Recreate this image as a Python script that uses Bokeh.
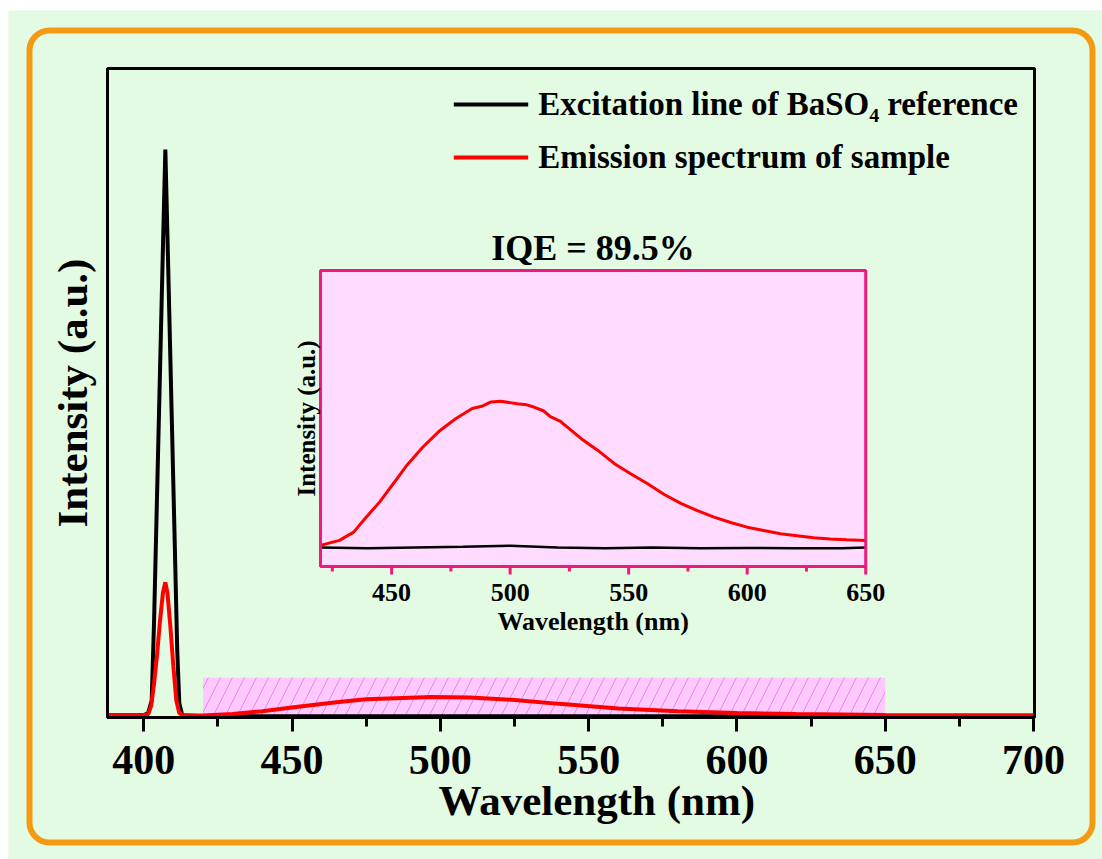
import math
from bokeh.plotting import figure
from bokeh.models import Range1d, FixedTicker, Legend, LegendItem, BoxAnnotation, GridBox
from bokeh.core.properties import value
from bokeh.embed import file_html
from bokeh.resources import INLINE

# ---------------- data ----------------
# main plot: excitation line of BaSO4 reference (black)
exc_wl = [388, 395, 400, 401.5, 402.7, 403.5, 405, 406.5, 407.3, 408, 409.5, 410.5, 411.3, 412, 413,
          420, 450, 500, 550, 600, 650, 700]
exc_int = [0.004, 0.004, 0.004, 0.008, 0.03, 0.17, 0.50, 0.83, 1.0, 0.85, 0.52, 0.30, 0.12, 0.025, 0.004,
           0.002, 0.002, 0.002, 0.002, 0.002, 0.002, 0.002]

# main plot: emission spectrum of sample (red)
em_wl = [388, 400, 401.5, 402.5, 403.5, 404.5, 405.5, 406.5, 407.3, 408, 409, 410, 411, 412, 413,
         420, 430, 440, 452, 465, 475, 485, 497, 510, 525, 540, 560, 580, 600, 620, 650, 700]
em_int = [0.004, 0.004, 0.006, 0.02, 0.06, 0.11, 0.17, 0.22, 0.238, 0.22, 0.16, 0.09, 0.03, 0.008, 0.004,
          0.0035, 0.006, 0.011, 0.019, 0.027, 0.032, 0.034, 0.036, 0.035, 0.031, 0.024, 0.016, 0.011,
          0.008, 0.006, 0.0045, 0.004]

# inset: zoomed region 420-650 nm
ins_wl = [420, 428, 434, 439, 445, 451, 456, 463, 470, 477, 484, 488, 492, 496, 500, 503, 507, 510, 514,
          517, 521, 524, 530, 537, 544, 551, 558, 565, 572, 579, 586, 593, 600, 607, 614, 621, 628, 635,
          642, 650]
ins_em = [0.014, 0.048, 0.104, 0.20, 0.31, 0.44, 0.55, 0.68, 0.79, 0.875, 0.945, 0.96, 0.99, 0.995, 0.985,
          0.977, 0.97, 0.955, 0.93, 0.89, 0.86, 0.82, 0.74, 0.66, 0.57, 0.50, 0.433, 0.36, 0.30, 0.25,
          0.206, 0.17, 0.138, 0.115, 0.093, 0.08, 0.066, 0.058, 0.052, 0.048]
ins_exc_wl = [420, 440, 460, 480, 500, 520, 540, 560, 580, 600, 620, 640, 650]
ins_exc = [0.0, -0.005, 0.0, 0.005, 0.012, 0.0, -0.005, 0.0, -0.005, -0.003, -0.005, -0.005, 0.0]

x_ticks = [400, 450, 500, 550, 600, 650, 700]
x_minor = [425, 475, 525, 575, 625, 675]
ins_ticks = [450, 500, 550, 600, 650]
ins_minor = [425, 475, 525, 575, 625]

band = (420, 650)          # highlighted (hatched) wavelength region
legend_labels = ["Excitation line of BaSO\u2084 reference", "Emission spectrum of sample"]
iqe_text = "IQE = 89.5%"

# ---------------- style ----------------
FONT = "Liberation Serif"
BG = "#E3FAE3"
ORANGE = "#F39A12"
PINK_BG = "#FFDCFF"
PINK = "#EE1A7E"

W, H = 1102, 859

# background figure: page colour and orange rounded frame
bg = figure(width=W, height=H, output_backend="svg", toolbar_location=None,
            x_range=Range1d(0, W), y_range=Range1d(H, 0),
            x_axis_location=None, y_axis_location=None, min_border=0,
            background_fill_color="white", border_fill_color="white", outline_line_color=None)
bg.frame_align = False
bg.grid.visible = False
bg.add_layout(BoxAnnotation(left=8, right=W, top=10, bottom=H,
                            fill_color=BG, fill_alpha=1, line_color=None))
bg.add_layout(BoxAnnotation(left=29, right=1092, top=30, bottom=842,
                            fill_alpha=0, line_color=ORANGE, line_alpha=1, line_width=6,
                            border_radius=20))

# main figure (transparent, drawn over the background)
p = figure(width=W, height=H, output_backend="svg", toolbar_location=None,
           x_range=Range1d(387.8, 700.3), y_range=Range1d(0, 1.1426),
           min_border_left=107, min_border_right=68, min_border_top=68, min_border_bottom=142,
           background_fill_alpha=0, border_fill_alpha=0)
p.frame_align = False
p.grid.visible = False
p.outline_line_color = "black"
p.outline_line_width = 3

xa = p.xaxis[0]
ya = p.yaxis[0]
xa.ticker = FixedTicker(ticks=x_ticks, minor_ticks=x_minor)
ya.ticker = FixedTicker(ticks=[])
xa.axis_label = "\u2003\u2009Wavelength (nm)"
ya.axis_label = "Intensity (a.u.)"
for ax in (xa, ya):
    ax.axis_line_width = 3
    ax.major_tick_line_width = 3
    ax.minor_tick_line_width = 3
    ax.major_tick_in = 0
    ax.minor_tick_in = 0
    ax.axis_label_text_font = FONT
    ax.axis_label_text_font_style = "bold"
    ax.axis_label_text_font_size = "43px"
    ax.axis_label_text_color = "black"
    ax.major_label_text_font = FONT
    ax.major_label_text_font_style = "bold"
    ax.major_label_text_font_size = "42px"
    ax.major_label_text_color = "black"
xa.major_tick_out = 14
xa.minor_tick_out = 9
xa.major_label_standoff = 14
xa.axis_label_standoff = 0
ya.major_tick_out = 0
ya.minor_tick_out = 0
ya.major_label_text_font_size = "0px"
ya.axis_label_standoff = 12

# hatched region
p.quad(left=[band[0]], right=[band[1]], bottom=[0], top=[0.07],
       fill_color="#FFC8FF", line_color=None,
       hatch_pattern="/", hatch_color="#E48AE8", hatch_scale=24, hatch_weight=1)

r_exc = p.line(exc_wl, exc_int, line_color="black", line_width=4)
r_em = p.line(em_wl, em_int, line_color="#FF0000", line_width=4)

legend = Legend(items=[LegendItem(label=legend_labels[0], renderers=[r_exc]),
                       LegendItem(label=legend_labels[1], renderers=[r_em])],
                location="top_right", orientation="vertical",
                border_line_color=None, background_fill_alpha=0,
                padding=0, margin=16, spacing=13,
                glyph_width=75, glyph_height=40, label_height=40, label_standoff=10,
                label_text_font=FONT, label_text_font_style="bold", label_text_color="black",
                label_text_font_size="33px", label_text_baseline="middle")
p.add_layout(legend)

# ---------------- inset ----------------
INS_X = (420, 650)
INS_Y = (-0.129, 1.884)
PPU = 147.0      # inset pixels per y unit
PPX = 2.363      # inset pixels per nm
ins = p.subplot(x_source=Range1d(*INS_X), y_source=Range1d(*INS_Y),
                x_target=Range1d(459.6, 643.4), y_target=Range1d(0.266, 0.787))

ins.quad(left=[INS_X[0]], right=[INS_X[1]], bottom=[INS_Y[0]], top=[INS_Y[1]],
         fill_color=PINK_BG, line_color=None)
ins.line(ins_exc_wl, ins_exc, line_color="black", line_width=2.5)
ins.line(ins_wl, ins_em, line_color="#FF0000", line_width=3)
ins.quad(left=[INS_X[0]], right=[INS_X[1]], bottom=[INS_Y[0]], top=[INS_Y[1]],
         fill_alpha=0, line_color=PINK, line_width=3)

yb = INS_Y[0]
ins.segment(x0=ins_ticks, y0=[yb] * len(ins_ticks), x1=ins_ticks,
            y1=[yb - 8 / PPU] * len(ins_ticks), line_color=PINK, line_width=3)
ins.segment(x0=ins_minor, y0=[yb] * len(ins_minor), x1=ins_minor,
            y1=[yb - 5 / PPU] * len(ins_minor), line_color=PINK, line_width=3)

txt = dict(text_font=value(FONT), text_font_style="bold", text_color="black")
ins.text(x=ins_ticks, y=[yb - 18 / PPU] * len(ins_ticks), text=[str(t) for t in ins_ticks],
         text_align="center", text_baseline="top", text_font_size="26px", **txt)
xmid = (INS_X[0] + INS_X[1]) / 2
ymid = (INS_Y[0] + INS_Y[1]) / 2
ins.text(x=[xmid], y=[yb - 41 / PPU], text=["Wavelength (nm)"],
         text_align="center", text_baseline="top", text_font_size="26px", **txt)
ins.text(x=[INS_X[0] - 14 / PPX], y=[ymid], text=["Intensity (a.u.)"], angle=math.pi / 2,
         text_align="center", text_baseline="middle", text_font_size="25px", **txt)
ins.text(x=[xmid], y=[INS_Y[1] + 22 / PPU], text=[iqe_text],
         text_align="center", text_baseline="middle", text_font_size="36px", **txt)

layout = GridBox(children=[(bg, 0, 0), (p, 0, 0)])

open("out.html", "w").write(file_html(layout, INLINE))
